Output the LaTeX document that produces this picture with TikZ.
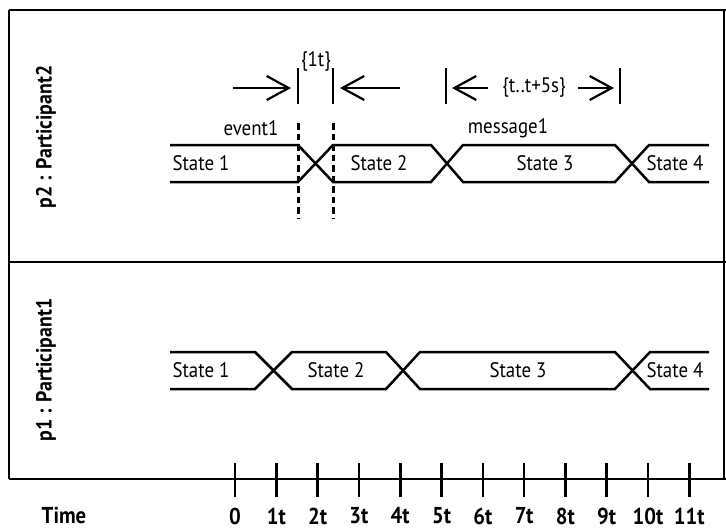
\documentclass[tikz,border=0pt]{standalone}
\usepackage{fontspec}
\setmainfont{PT Sans}[FakeStretch=0.9]
\usetikzlibrary{arrows.meta}
\tikzset{
  frameline/.style={line width=2.8pt},
  laneline/.style={line width=2.5pt, line join=miter},
  barline/.style={line width=2.8pt},
  guide/.style={line width=3pt, dash pattern=on 6.5pt off 4pt},
  measure/.style={line width=2.2pt, -{Straight Barb[length=22pt,width=24pt,line width=2.2pt]}},
  txt/.style={inner sep=0pt, font=\fontsize{21}{23}\selectfont},
  boldtxt/.style={inner sep=0pt, font=\fontsize{23}{25}\selectfont\bfseries},
  lanetxt/.style={inner sep=0pt, font=\fontsize{22}{24}\selectfont\bfseries},
  tickline/.style={line width=2.6pt}
}
\begin{document}
\begin{tikzpicture}[x=1pt,y=-1pt]
\useasboundingbox (0,0) rectangle (726,531);
% frame
\draw[frameline] (9,10) -- (726,10);
\draw[frameline] (9,10) -- (9,479);
\draw[frameline] (724,10) -- (724,479);
\draw[frameline] (9,262) -- (726,262);
\draw[frameline] (9,479) -- (726,479);
% lane labels
\node[lanetxt, rotate=90] (lp2) at (46,137) {p2 : Participant2};
\node[lanetxt, rotate=90] (lp1) at (46,370) {p1 : Participant1};
\node[boldtxt] (time) at (64,515) {Time};
% ticks
\foreach \k/\lab in {0/0,1/1t,2/2t,3/3t,4/4t,5/5t,6/6t,7/7t,8/8t,9/9t,10/10t,11/11t}{
  \coordinate (tt\k) at ({235+41.3*\k},463);
  \coordinate (tb\k) at ({235+41.3*\k},497);
  \draw[tickline] (tt\k) -- (tb\k);
  \node[boldtxt] (tl\k) at ({235+41.3*\k},516) {\lab};
}
% p1 lane
\draw[laneline] (170,352) -- (255,352) -- (292,389) -- (386,389) -- (420,352) -- (615,352) -- (650,389) -- (709,389);
\draw[laneline] (170,389) -- (255,389) -- (292,352) -- (386,352) -- (420,389) -- (615,389) -- (650,352) -- (709,352);
\node[txt] (p1s1) at (201,370) {State 1};
\node[txt] (p1s2) at (336,370) {State 2};
\node[txt] (p1s3) at (518,370) {State 3};
\node[txt] (p1s4) at (675,370) {State 4};
% p2 lane
\draw[laneline] (170,145) -- (298,145) -- (333,182) -- (431,182) -- (463,145) -- (615,145) -- (649,182) -- (709,182);
\draw[laneline] (170,182) -- (298,182) -- (333,145) -- (431,145) -- (463,182) -- (615,182) -- (649,145) -- (709,145);
\node[txt] (p2s1) at (201,163) {State 1};
\node[txt] (p2s2) at (379,163) {State 2};
\node[txt] (p2s3) at (545,163) {State 3};
\node[txt] (p2s4) at (675,163) {State 4};
% duration constraint {1t}
\coordinate (g1t) at (298,123); \coordinate (g1b) at (298,218);
\coordinate (g2t) at (333,123); \coordinate (g2b) at (333,218);
\draw[guide] (g1t) -- (g1b);
\draw[guide] (g2t) -- (g2b);
\coordinate (b1t) at (298,68); \coordinate (b1b) at (298,104);
\coordinate (b2t) at (333,68); \coordinate (b2b) at (333,104);
\draw[barline] (b1t) -- (b1b);
\draw[barline] (b2t) -- (b2b);
\coordinate (a1s) at (233,88); \coordinate (a1e) at (291,88);
\coordinate (a2s) at (400,88); \coordinate (a2e) at (340,88);
\draw[measure] (a1s) -- (a1e);
\draw[measure] (a2s) -- (a2e);
\node[txt] (c1t) at (316,61) {\{1t\}};
\node[txt] (ev1) at (251,128) {event1};
% constraint {t..t+5s}
\coordinate (b3t) at (446,68); \coordinate (b3b) at (446,104);
\coordinate (b4t) at (620,68); \coordinate (b4b) at (620,104);
\draw[barline] (b3t) -- (b3b);
\draw[barline] (b4t) -- (b4b);
\node[txt] (c2t) at (534,88) {\{t..t+5s\}};
\coordinate (a3s) at (488,88); \coordinate (a3e) at (452,88);
\coordinate (a4s) at (578,88); \coordinate (a4e) at (614,88);
\draw[measure] (a3s) -- (a3e);
\draw[measure] (a4s) -- (a4e);
\node[txt] (msg1) at (508,128) {message1};
\end{tikzpicture}
\end{document}
